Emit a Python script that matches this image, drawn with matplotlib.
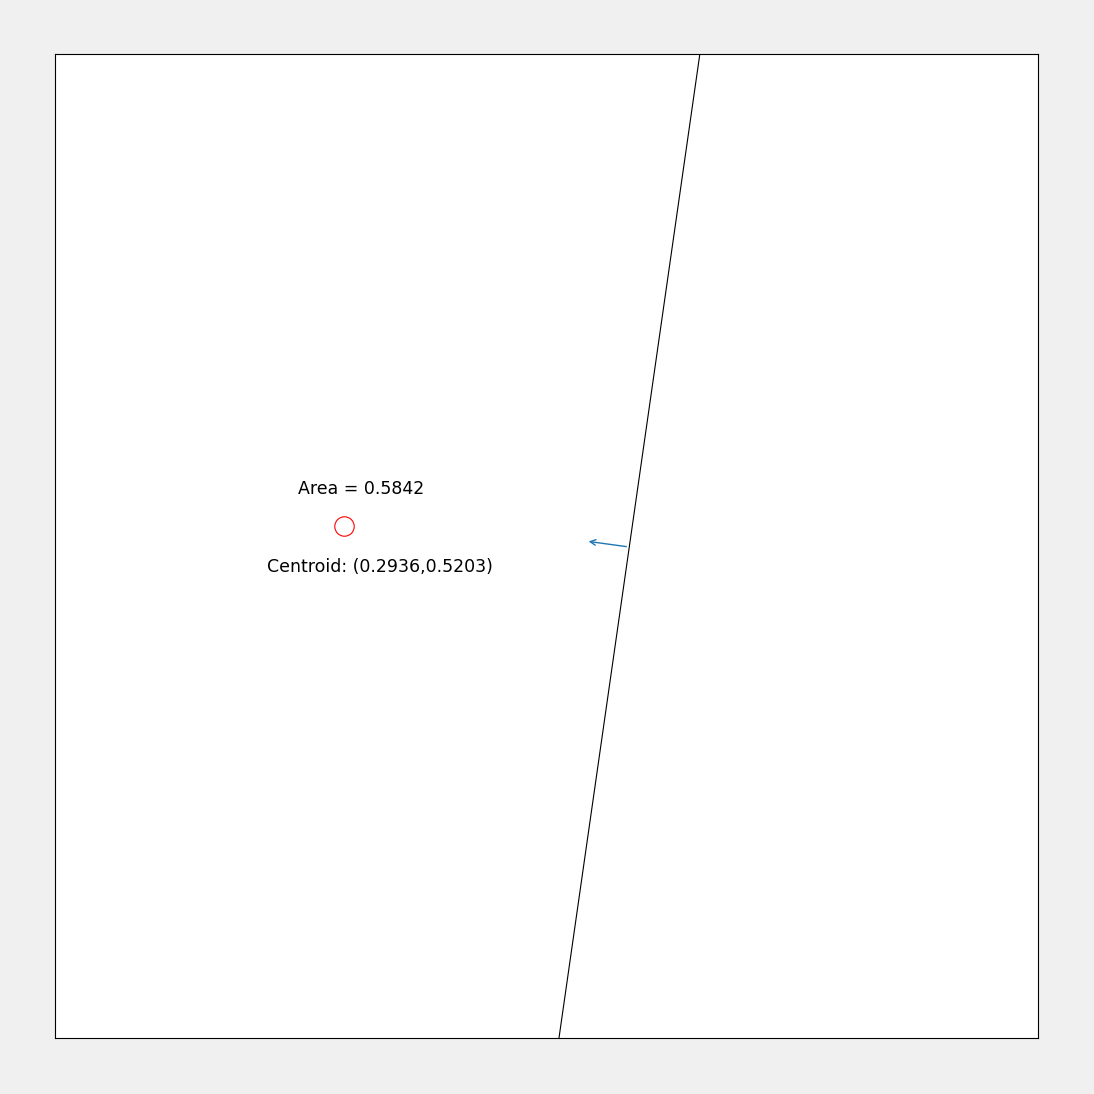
import matplotlib.pyplot as plt

# cutting line end points (data coords)
line_x = [0.656, 0.5127]
line_y = [1.0, 0.0]
# normal arrow
arrow_start = (0.584, 0.499)
arrow_end = (0.540, 0.505)
area = 0.5842
centroid = (0.2936, 0.5203)

fig = plt.figure(figsize=(10.94, 10.94), dpi=100, facecolor='#f0f0f0')
ax = fig.add_axes([55/1094, 56/1094, 983/1094, 984/1094])
ax.set_xlim(0, 1)
ax.set_ylim(0, 1)
ax.set_xticks([])
ax.set_yticks([])
for s in ax.spines.values():
    s.set_linewidth(0.8)

ax.plot(line_x, line_y, color='black', linewidth=0.8)
ax.annotate('', xy=arrow_end, xytext=arrow_start,
            arrowprops=dict(arrowstyle='->', color='#1f77b4', lw=1.0))
ax.plot(centroid[0], centroid[1], 'o', mfc='none', mec='red', ms=14, mew=0.8)
ax.text(0.311, 0.558, f'Area = {area:.4f}', ha='center', va='center', fontsize=12.5)
ax.text(0.331, 0.479, f'Centroid: ({centroid[0]:.4f},{centroid[1]:.4f})',
        ha='center', va='center', fontsize=12.5)

fig.savefig('out.png', dpi=100, facecolor=fig.get_facecolor())
